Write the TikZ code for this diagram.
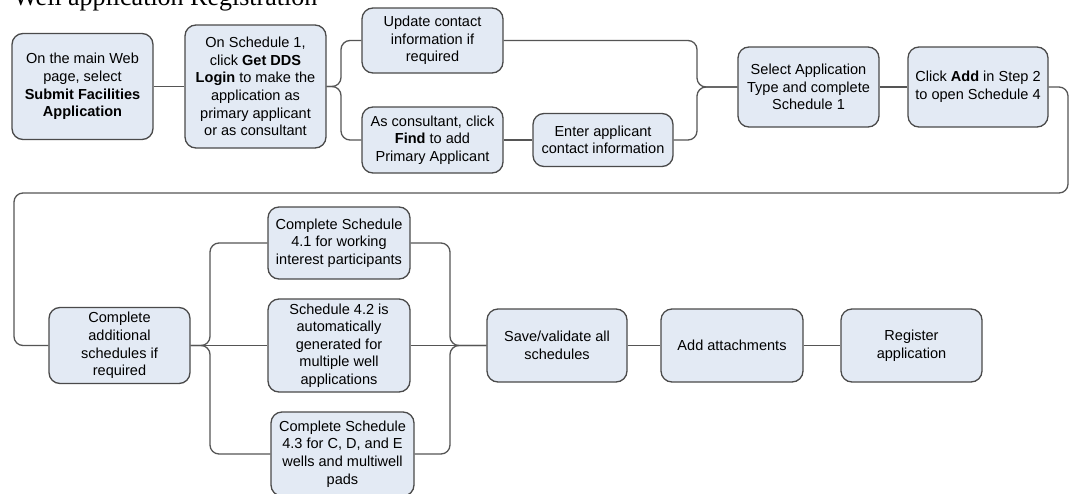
\documentclass[tikz,border=0pt]{standalone}
\usepackage{fontspec}
\setmainfont{Liberation Sans}
\newfontfamily\titlefont{Liberation Serif}
\newlength\px
\setlength\px{0.75pt}
\definecolor{boxfill}{HTML}{E3EAF4}
\definecolor{boxline}{HTML}{4A4A4A}
\definecolor{linecol}{HTML}{555555}
\tikzset{
  box/.style={draw=boxline, fill=boxfill, line width=1.3\px, rounded corners=11\px,
    align=center, inner sep=0pt, font=\fontsize{10.9}{13.2}\selectfont},
  conn/.style={draw=linecol, line width=1.3\px, rounded corners=9\px},
}
\begin{document}
\begin{tikzpicture}[x=0.75pt, y=-0.75pt]
\useasboundingbox (0,0) rectangle (1070,493);
\clip (0,0) rectangle (1070,493);
\fill[white] (0,0) rectangle (1070,493);
\node[anchor=base west, inner sep=0pt, font=\titlefont\fontsize{19.5}{20}\selectfont] (title) at (13,5.5) {Well application Registration};

\node[box, minimum width=141\px, minimum height=106\px] (b1) at (82.5,86.5)
  {On the main Web\\page, select\\\textbf{Submit Facilities}\\\textbf{Application}};
\node[box, minimum width=141\px, minimum height=123\px] (b2) at (255.5,86.5)
  {On Schedule 1,\\click \textbf{Get DDS}\\\textbf{Login} to make the\\application as\\primary applicant\\or as consultant};
\node[box, minimum width=141\px, minimum height=65\px] (b3) at (432.5,40.5)
  {Update contact\\information if\\required};
\node[box, minimum width=141\px, minimum height=66\px] (b4) at (432.5,140)
  {As consultant, click\\\textbf{Find} to add\\Primary Applicant};
\node[box, minimum width=140\px, minimum height=53\px] (b5) at (603,140)
  {Enter applicant\\contact information};
\node[box, minimum width=141\px, minimum height=80\px] (b6) at (808.5,87)
  {Select Application\\Type and complete\\Schedule 1};
\node[box, minimum width=140\px, minimum height=80\px] (b7) at (978,87)
  {Click \textbf{Add} in Step 2\\to open Schedule 4};
\node[box, minimum width=141\px, minimum height=76\px] (b8) at (119.5,345.5)
  {Complete\\additional\\schedules if\\required};
\node[box, minimum width=142\px, minimum height=72\px] (b9) at (339,243)
  {Complete Schedule\\4.1 for working\\interest participants};
\node[box, minimum width=142\px, minimum height=93\px] (b10) at (339,345.5)
  {Schedule 4.2 is\\automatically\\generated for\\multiple well\\applications};
\node[box, minimum width=143\px, minimum height=84\px] (b11) at (342.5,454)
  {Complete Schedule\\4.3 for C, D, and E\\wells and multiwell\\pads};
\node[box, minimum width=140\px, minimum height=73\px] (b12) at (557,345.5)
  {Save/validate all\\schedules};
\node[box, minimum width=142\px, minimum height=73\px] (b13) at (732,345.5)
  {Add attachments};
\node[box, minimum width=141\px, minimum height=73\px] (b14) at (911.5,345.5)
  {Register\\application};

\coordinate (s1) at (341,86.5);
\coordinate (m1) at (697,87);
\coordinate (r1) at (1068,193);
\coordinate (l1) at (14,193);
\coordinate (s2) at (210,345.5);
\coordinate (m2) at (450,345.5);

\draw[conn] (b1.east) -- (b2.west);
\draw[conn] (b2.east) -- (s1) |- (b3.west);
\draw[conn] (b2.east) -- (s1) |- (b4.west);
\draw[conn] (b4.east) -- (b4.east -| b5.west);
\draw[conn] (b3.east) -| (m1) -- (b6.west);
\draw[conn] (b5.east) -| (m1) -- (b6.west);
\draw[conn] (b6.east) -- (b7.west);
\draw[conn] (b7.east) -| (r1) -- (l1) |- (b8.west);
\draw[conn] (b8.east) -- (s2) |- (b9.west);
\draw[conn] (b8.east) -- (b10.west);
\draw[conn] (b8.east) -- (s2) |- (b11.west);
\draw[conn] (b9.east) -| (m2) -- (b12.west);
\draw[conn] (b10.east) -- (b12.west);
\draw[conn] (b11.east) -| (m2) -- (b12.west);
\draw[conn] (b12.east) -- (b13.west);
\draw[conn] (b13.east) -- (b14.west);
\end{tikzpicture}
\end{document}
